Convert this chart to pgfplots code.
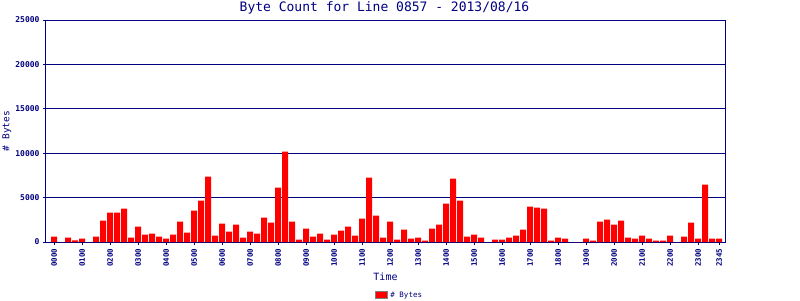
\documentclass[border=0pt]{standalone}
\usepackage{fontspec}
\setmonofont{DejaVu Sans Mono}
\usepackage{pgfplots}
\pgfplotsset{compat=1.18}
\definecolor{navy}{HTML}{000080}
\begin{document}
\begin{tikzpicture}[x=1pt,y=1pt]
\useasboundingbox (-46pt,-58pt) rectangle (754pt,242pt);
\begin{axis}[
  at={(0pt,0pt)}, anchor=south west,
  scale only axis, width=679pt, height=222pt,
  xmin=-1.15, xmax=95.85, ymin=0, ymax=25000,
  ybar, bar width=6pt,
  axis line style={navy, line width=1pt},
  ymajorgrids, grid style={navy, line width=1pt},
  ytick={0,5000,10000,15000,20000,25000},
  scaled y ticks=false,
  /pgf/number format/1000 sep={},
  /pgf/number format/assume math mode=true,
  xtick={0,4,8,12,16,20,24,28,32,36,40,44,48,52,56,60,64,68,72,76,80,84,88,92,95},
  xticklabels={0000,0100,0200,0300,0400,0500,0600,0700,0800,0900,1000,1100,1200,1300,1400,1500,1600,1700,1800,1900,2000,2100,2200,2300,2345},
  tick align=outside, major tick length=3pt,
  tick style={navy, line width=1pt},
  xtick pos=bottom, ytick pos=left,
  yticklabel style={font=\ttfamily\bfseries\fontsize{8}{8}\selectfont, text=navy},
  xticklabel style={font=\ttfamily\bfseries\fontsize{7.5}{7.5}\selectfont, text=navy, rotate=90, anchor=east},
  title={Byte Count for Line 0857 - 2013/08/16},
  title style={font=\ttfamily\fontsize{13}{13}\selectfont, text=navy, at={(axis description cs:0.4985,1.027)}, anchor=center},
  xlabel={Time},
  xlabel style={font=\ttfamily\fontsize{10}{10}\selectfont, text=navy, at={(axis description cs:0.5,-0.158)}, anchor=center},
  ylabel={\# Bytes},
  ylabel style={font=\ttfamily\fontsize{9.5}{9.5}\selectfont, text=navy, at={(axis description cs:-0.0574,0.5)}, anchor=center},
  legend style={at={(axis description cs:0.521,-0.239)}, anchor=center, draw=none, fill=none,
    font=\ttfamily\fontsize{7.5}{7.5}\selectfont, text=navy, inner sep=1pt},
  legend image code/.code={\draw[fill=red,draw=gray,line width=1pt] (0pt,-3.5pt) rectangle (12pt,3.5pt);},
]
\addplot[fill=red, draw=none] coordinates {
(0,600) (1,0) (2,490) (3,190) (4,376) (5,0) (6,600) (7,2400) (8,3310) (9,3310)
(10,3760) (11,490) (12,1730) (13,830) (14,940) (15,600) (16,376) (17,830) (18,2290) (19,1050)
(20,3530) (21,4660) (22,7370) (23,714) (24,2070) (25,1165) (26,1955) (27,490) (28,1165) (29,940)
(30,2745) (31,2180) (32,6130) (33,10190) (34,2290) (35,263) (36,1500) (37,600) (38,940) (39,263)
(40,830) (41,1280) (42,1730) (43,714) (44,2630) (45,7260) (46,2970) (47,490) (48,2290) (49,263)
(50,1390) (51,376) (52,490) (53,150) (54,1500) (55,1955) (56,4320) (57,7140) (58,4660) (59,600)
(60,830) (61,490) (62,0) (63,263) (64,263) (65,490) (66,714) (67,1390) (68,3985) (69,3870)
(70,3760) (71,150) (72,490) (73,376) (74,0) (75,0) (76,376) (77,150) (78,2290) (79,2520)
(80,1955) (81,2400) (82,490) (83,376) (84,714) (85,376) (86,150) (87,150) (88,714) (89,0)
(90,600) (91,2180) (92,376) (93,6470) (94,376) (95,376)
};
\addlegendentry{\# Bytes}
\end{axis}
\end{tikzpicture}
\end{document}
